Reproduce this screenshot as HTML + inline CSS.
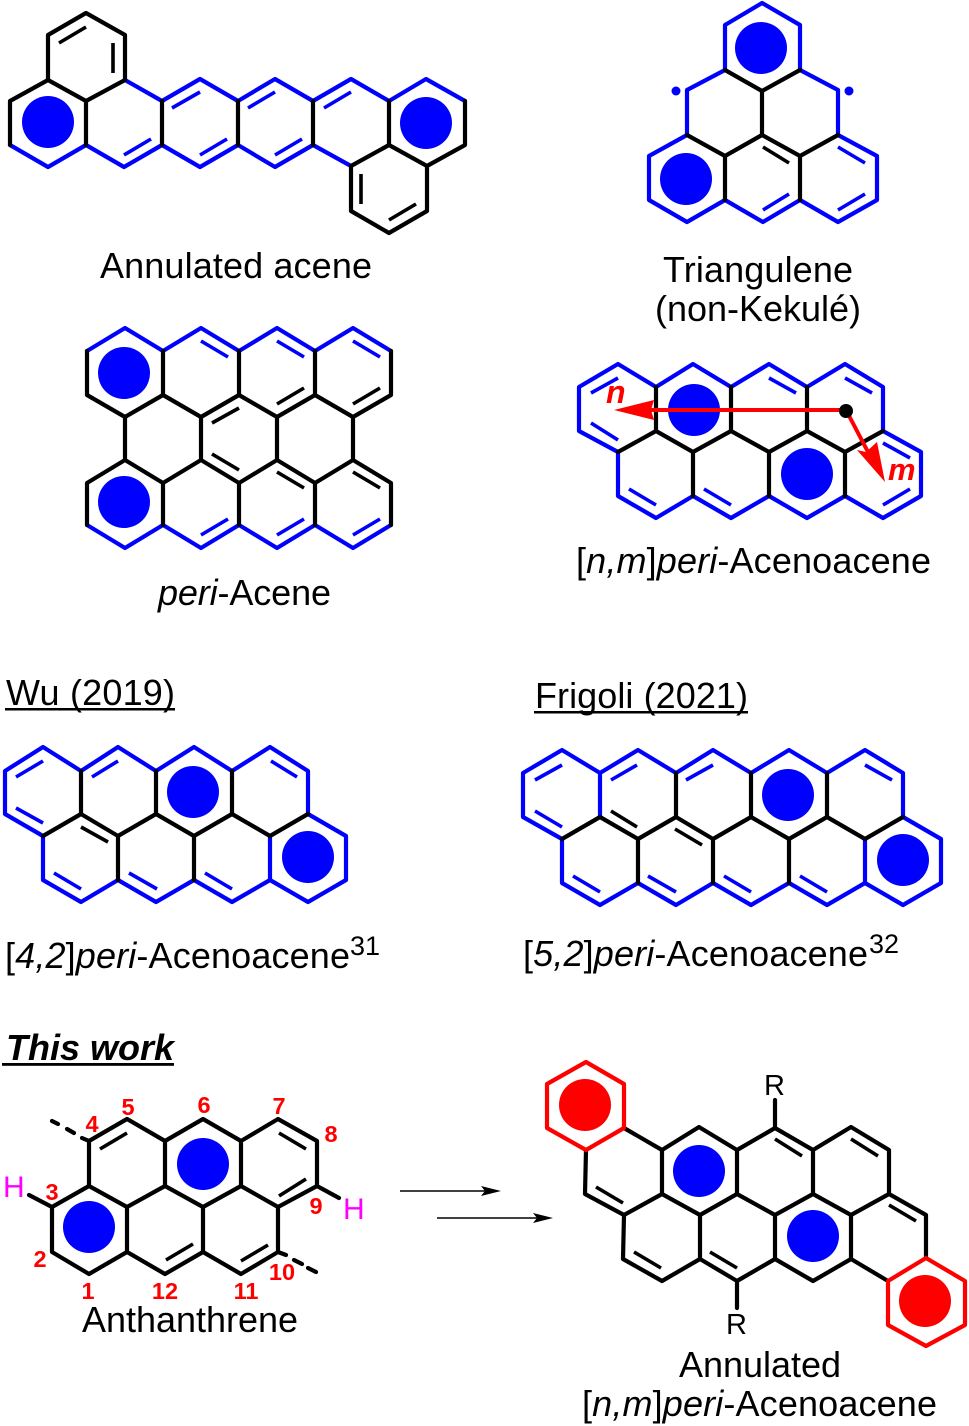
<!DOCTYPE html>
<html><head><meta charset="utf-8"><style>
html,body{margin:0;padding:0;background:#fff}
svg{display:block}
text{font-family:"Liberation Sans",sans-serif;fill:#000}
.b{fill:none;stroke:#0000ff;stroke-width:4.2;stroke-linejoin:round;stroke-linecap:round}
.k{fill:none;stroke:#000;stroke-width:4.2;stroke-linejoin:round;stroke-linecap:round}
.r{fill:none;stroke:#f00;stroke-width:4.2;stroke-linejoin:round;stroke-linecap:round}
.bi{fill:none;stroke:#0000ff;stroke-width:3.6;stroke-linecap:butt}
.ki{fill:none;stroke:#000;stroke-width:3.6;stroke-linecap:butt}
.cb{fill:#0000ff}.cr{fill:#f00}
.l{font-size:36px}
.n{font-size:23.5px;font-weight:bold;fill:#f00;text-anchor:middle}
.h{font-size:30px;fill:#ff00ff}
</style></head><body>
<svg xmlns="http://www.w3.org/2000/svg" width="969" height="1426" viewBox="0 0 969 1426">
<rect width="969" height="1426" fill="#fff"/>

<!-- Annulated acene -->
<path class="b" d="M10 145L48 167L86 145L124 167L162 145L200 167L238 145L275 167L313 145L351 166M125 80L162 101L200 79L238 101L275 79L313 101L351 79L389 101L426 79L465 101"/>
<path class="k" d="M48 80L48 35L86 13L125 35L125 80L86 101L48 80L10 101L10 145M86 101L86 145M162 101L162 145M238 101L238 145M313 101L313 145M389 101L389 145M465 101L465 145L427 166L389 145L351 166L351 211L389 233L427 211L427 166"/>
<path class="ki" d="M59 43L86 27M113 43L113 73M361 174L361 204M389 220L416 204"/>
<path class="bi" d="M124 155L151 139M200 155L227 139M275 155L302 139M172 108L200 92M248 108L275 92M324 108L351 92"/>
<circle class="cb" cx="48" cy="122" r="26"/><circle class="cb" cx="426" cy="123" r="26"/>
<text class="l" x="100" y="278" textLength="272">Annulated acene</text>

<!-- Triangulene -->
<path class="b" d="M725 70L725 25L762 3L800 25L800 70M725 70L687 90L687 135L649 156L649 200L687 222L725 200L763 222L800 200L838 222L877 200L877 156L838 135L838 90L800 70"/>
<path class="k" d="M725 70L762 91L800 70M762 91L762 135M687 135L725 156L762 135L800 156L838 135M725 156L725 200M800 156L800 200"/>
<path class="ki" d="M763 147L789 163"/>
<path class="bi" d="M763 210L789 194M838 147L865 163M838 210L865 194"/>
<circle class="cb" cx="761" cy="48" r="26"/><circle class="cb" cx="686" cy="179" r="26"/>
<circle class="cb" cx="676" cy="91" r="4.5"/><circle class="cb" cx="849" cy="91" r="4.5"/>
<text class="l" x="663" y="282" textLength="190">Triangulene</text>
<text class="l" x="655" y="321" textLength="206">(non-Kekulé)</text>

<!-- peri-Acene -->
<path class="b" d="M87 351L125 328L163 351L201 328L239 351L277 328L315 351L353 328L391 351M87 525L125 548L163 525L201 548L239 525L277 548L315 525L353 548L391 525"/>
<path class="k" d="M87 351L87 395L125 417L163 395L163 351M163 395L201 417L239 395L277 417L315 395L353 417L391 395L391 351M239 351L239 395M315 351L315 395M125 417L125 460M201 417L201 460M277 417L277 460M353 417L353 460M87 525L87 483L125 460L163 483L201 460L239 483L277 460L315 483L353 460L391 483L391 525M163 483L163 525M239 483L239 525M315 483L315 525"/>
<path class="bi" d="M201 341L228 357M277 341L304 357M353 341L380 357M201 535L228 519M277 535L304 519M353 535L380 519"/>
<path class="ki" d="M277 404L304 388M353 404L380 388M212 423L239 408M212 454L239 470M277 472L304 488M353 472L380 488"/>
<circle class="cb" cx="124" cy="373" r="26"/><circle class="cb" cx="124" cy="502" r="26"/>
<text class="l" x="158" y="605" textLength="173"><tspan font-style="italic">peri</tspan>-Acene</text>

<!-- n,m peri-acenoacene -->
<path class="b" d="M618 452L579 431L579 387L618 364L656 387L693 364L731 387L769 364L807 387L845 364L883 387L883 431L921 452L921 496L883 518L845 496L807 518L769 496L731 518L693 496L656 518L618 496L618 452"/>
<path class="k" d="M656 387L656 431L618 452M656 431L693 452L731 431L769 452L807 431L845 452L883 431M731 387L731 431M807 387L807 431M693 452L693 496M769 452L769 496M845 452L845 496"/>
<path class="bi" d="M591 393L618 378M591 423L618 440M769 378L796 393M845 378L872 393M883 443L910 458M883 505L910 489M629 489L656 505M704 489L731 505"/>
<circle class="cb" cx="694" cy="410" r="26"/><circle class="cb" cx="807" cy="474" r="26"/>
<path d="M846 410L650 410" stroke="#f00" stroke-width="4" fill="none"/>
<path d="M614 410L654 400L651 410L654 420Z" fill="#f00"/>
<path d="M846 410L868 452" stroke="#f00" stroke-width="4" fill="none"/>
<path d="M885 482L857 450L866 452L877 442Z" fill="#f00"/>
<circle cx="846" cy="411" r="7" fill="#000"/>
<text x="606" y="403" font-size="32" font-weight="bold" font-style="italic" style="fill:#f00">n</text>
<text x="888" y="480" font-size="31" font-weight="bold" font-style="italic" style="fill:#f00">m</text>
<text class="l" x="576" y="573" textLength="355">[<tspan font-style="italic">n,m</tspan>]<tspan font-style="italic">peri</tspan>-Acenoacene</text>

<!-- Wu -->
<text class="l" x="6" y="705" textLength="169">Wu (2019)</text>
<rect x="5" y="708" width="170" height="2.5" fill="#000"/>
<path class="b" d="M43 836L5 814L5 771L43 747L81 771L118 747L156 771L194 747L232 771L270 747L308 771L308 814L346 836L346 880L308 902L270 880L232 902L194 880L156 902L118 880L81 902L43 880L43 836M270 836L270 880"/>
<path class="k" d="M43 836L81 814L118 836L156 814L194 836L232 814L270 836L308 814M81 771L81 814M156 771L156 814M232 771L232 814M118 836L118 880M194 836L194 880"/>
<path class="bi" d="M16 777L43 761M16 808L43 823M92 777L118 761M271 761L297 777M54 873L81 889M129 873L157 889M205 873L232 889"/>
<path class="ki" d="M81 827L108 842"/>
<circle class="cb" cx="193" cy="792" r="26"/><circle class="cb" cx="308" cy="857" r="26"/>
<text class="l" x="5" y="968" textLength="345">[<tspan font-style="italic">4,2</tspan>]<tspan font-style="italic">peri</tspan>-Acenoacene</text>
<text x="350" y="955" font-size="27">31</text>

<!-- Frigoli -->
<text class="l" x="535" y="708" textLength="213">Frigoli (2021)</text>
<rect x="534" y="711" width="214" height="2.5" fill="#000"/>
<path class="b" d="M562 839L523 817L523 773L562 750L600 773L638 750L676 773L713 750L751 773L789 750L827 773L865 750L903 773L903 817L941 839L941 883L903 905L865 883L827 905L789 883L751 905L713 883L676 905L638 883L600 905L562 883L562 839M865 839L865 883M600 773L600 817"/>
<path class="k" d="M562 839L600 817L638 839L676 817L713 839L751 817L789 839L827 817L865 839L903 817M676 773L676 817M751 773L751 817M827 773L827 817M638 839L638 883M713 839L713 883M789 839L789 883"/>
<path class="bi" d="M535 780L562 765M535 811L562 827M611 780L637 765M686 780L713 765M865 765L892 780M573 876L600 892M648 876L676 892M724 876L751 892M800 876L827 892"/>
<path class="ki" d="M611 811L637 827M675 829L702 845"/>
<circle class="cb" cx="788" cy="795" r="26"/><circle class="cb" cx="903" cy="860" r="26"/>
<text class="l" x="523" y="966" textLength="345">[<tspan font-style="italic">5,2</tspan>]<tspan font-style="italic">peri</tspan>-Acenoacene</text>
<text x="869" y="953" font-size="27">32</text>

<!-- This work -->
<text x="6" y="1060" font-size="36" font-weight="bold" font-style="italic" textLength="168">This work</text>
<rect x="2" y="1063" width="172" height="2.8" fill="#000"/>

<!-- Anthanthrene -->
<path class="k" d="M52 1207L89 1186L89 1141L127 1119L165 1141L203 1119L241 1141L278 1119L317 1141L317 1186L278 1207L278 1252L241 1274L203 1252L165 1274L127 1252L89 1274L52 1252L52 1207ZM89 1186L127 1207L165 1186L203 1207L241 1186L278 1207M127 1207L127 1252M165 1141L165 1186M241 1141L241 1186M203 1207L203 1252M52 1207L29 1195M317 1186L339 1198M52 1121L58 1124M67 1129L74 1133M82 1138L89 1141M278 1252L286 1255M294 1260L302 1264M308 1268L316 1272"/>
<path class="ki" d="M100 1149L127 1133M279 1133L306 1149M279 1196L306 1179M166 1260L193 1244M241 1261L268 1245"/>
<circle class="cb" cx="203" cy="1164" r="26"/><circle class="cb" cx="89" cy="1227" r="26"/>
<text class="n" x="92" y="1132">4</text><text class="n" x="128" y="1115">5</text><text class="n" x="204" y="1113">6</text><text class="n" x="279" y="1114">7</text><text class="n" x="331" y="1142">8</text><text class="n" x="52" y="1200">3</text><text class="n" x="316" y="1214">9</text><text class="n" x="40" y="1267">2</text><text class="n" x="88" y="1299">1</text><text class="n" x="165" y="1299">12</text><text class="n" x="246" y="1299">11</text><text class="n" x="282" y="1280">10</text>
<text class="h" x="3" y="1197">H</text><text class="h" x="343" y="1219">H</text>
<text class="l" x="82" y="1332" textLength="216">Anthanthrene</text>

<!-- arrows -->
<path d="M400 1191L490 1191" stroke="#000" stroke-width="1.6"/>
<path d="M501 1191L481 1186L485 1191L481 1196Z" fill="#000"/>
<path d="M437 1218L542 1218" stroke="#000" stroke-width="1.6"/>
<path d="M553 1218L533 1213L537 1218L533 1223Z" fill="#000"/>

<!-- Annulated [n,m] -->
<path class="k" d="M624 1128L662 1150M586 1150L585 1194L624 1215L662 1194M662 1150L662 1194M662 1150L699 1127L737 1150L775 1128L813 1150L851 1127L889 1150L889 1194L926 1215L926 1258M662 1194L700 1215L737 1194L775 1215L813 1194L851 1215L889 1194M737 1150L737 1194M813 1150L813 1194M700 1215L700 1259M775 1215L775 1259M851 1215L851 1259M624 1215L623 1259L662 1281L700 1259L737 1281L775 1259L813 1281L851 1259L888 1281M775 1128L775 1100M737 1281L737 1308"/>
<path class="ki" d="M596 1187L623 1203M775 1139L802 1156M851 1139L878 1156M889 1205L916 1221M634 1252L661 1268M710 1252L737 1268"/>
<path class="r" d="M586 1062L547 1084L547 1128L586 1150L624 1128L624 1084ZM926 1258L965 1281L965 1325L926 1346L888 1325L888 1281Z"/>
<circle class="cr" cx="585" cy="1105" r="26"/><circle class="cr" cx="925" cy="1301" r="26"/>
<circle class="cb" cx="699" cy="1171" r="26"/><circle class="cb" cx="813" cy="1236" r="26"/>
<text x="764" y="1095" font-size="29">R</text>
<text x="726" y="1334" font-size="29">R</text>
<text class="l" x="679" y="1377" textLength="162">Annulated</text>
<text class="l" x="582" y="1416" textLength="355">[<tspan font-style="italic">n,m</tspan>]<tspan font-style="italic">peri</tspan>-Acenoacene</text>
</svg>
</body></html>
